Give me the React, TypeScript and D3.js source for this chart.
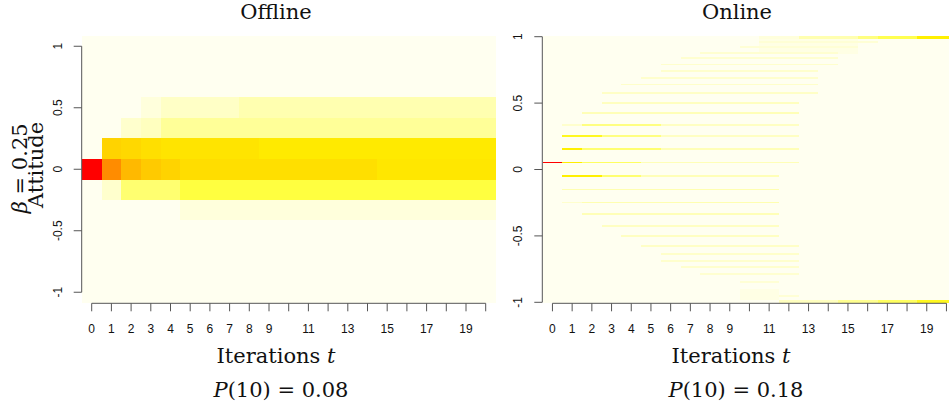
import React from "react";
import * as d3 from "d3";

// iterations t (one column per step) and the x tick labels R kept after dropping overlaps
const iterations = [0, 1, 2, 3, 4, 5, 6, 7, 8, 9, 10, 11, 12, 13, 14, 15, 16, 17, 18, 19, 20];
const iterationLabels = ["0", "1", "2", "3", "4", "5", "6", "7", "8", "9", "", "11", "", "13", "", "15", "", "17", "", "19", ""];
const attitudeTicks = [-1, -0.5, 0, 0.5, 1];
const attitudeTickLabels = ["-1", "-0.5", "0", "0.5", "1"];

// offline: attitude bins (top to bottom) x iterations, estimated share per cell
const offlineBins = [1, 0.8333, 0.6667, 0.5, 0.3333, 0.1667, 0, -0.1667, -0.3333, -0.5, -0.6667, -0.8333, -1];
const offlineDensity = [
  [0, 0, 0, 0, 0, 0, 0, 0, 0, 0, 0, 0, 0, 0, 0, 0, 0, 0, 0, 0, 0],
  [0, 0, 0, 0, 0, 0, 0, 0, 0, 0, 0, 0, 0, 0, 0, 0, 0, 0, 0, 0, 0],
  [0, 0, 0, 0, 0, 0, 0, 0, 0, 0, 0, 0, 0, 0, 0, 0, 0, 0, 0, 0, 0],
  [0, 0, 0, 0.02, 0.035, 0.035, 0.035, 0.035, 0.05, 0.05, 0.05, 0.05, 0.05, 0.05, 0.05, 0.05, 0.05, 0.05, 0.05, 0.05, 0.05],
  [0, 0, 0.03, 0.04, 0.065, 0.065, 0.065, 0.065, 0.065, 0.065, 0.065, 0.065, 0.065, 0.065, 0.065, 0.065, 0.065, 0.065, 0.065, 0.065, 0.065],
  [0, 0.27, 0.25, 0.22, 0.2, 0.2, 0.2, 0.2, 0.2, 0.18, 0.18, 0.18, 0.18, 0.18, 0.18, 0.18, 0.18, 0.18, 0.18, 0.18, 0.18],
  [1, 0.5, 0.38, 0.31, 0.27, 0.23, 0.23, 0.22, 0.22, 0.22, 0.22, 0.22, 0.22, 0.22, 0.22, 0.19, 0.19, 0.19, 0.19, 0.19, 0.19],
  [0, 0.03, 0.09, 0.09, 0.09, 0.12, 0.12, 0.12, 0.12, 0.12, 0.12, 0.12, 0.12, 0.12, 0.12, 0.12, 0.12, 0.12, 0.12, 0.12, 0.12],
  [0, 0, 0, 0, 0, 0.02, 0.02, 0.02, 0.02, 0.02, 0.02, 0.02, 0.02, 0.02, 0.02, 0.02, 0.02, 0.02, 0.02, 0.02, 0.02],
  [0, 0, 0, 0, 0, 0, 0, 0, 0, 0, 0, 0, 0, 0, 0, 0, 0, 0, 0, 0, 0],
  [0, 0, 0, 0, 0, 0, 0, 0, 0, 0, 0, 0, 0, 0, 0, 0, 0, 0, 0, 0, 0],
  [0, 0, 0, 0, 0, 0, 0, 0, 0, 0, 0, 0, 0, 0, 0, 0, 0, 0, 0, 0, 0],
  [0, 0, 0, 0, 0, 0, 0, 0, 0, 0, 0, 0, 0, 0, 0, 0, 0, 0, 0, 0, 0],
];

// online: narrow attitude streaks [attitude, from t, to t, share]
const onlineStreaks = [
  [0.052, 0, 0, 1.0], [0.052, 1, 1, 0.17], [0.052, 2, 4, 0.1], [0.052, 5, 12, 0.045],
  [0.152, 1, 1, 0.16], [0.152, 2, 5, 0.09], [0.152, 6, 12, 0.045],
  [0.25, 1, 2, 0.14], [0.25, 3, 5, 0.08], [0.25, 6, 12, 0.038],
  [0.338, 1, 1, 0.03], [0.338, 2, 5, 0.08], [0.338, 6, 12, 0.038],
  [0.425, 2, 12, 0.045],
  [0.5, 3, 12, 0.04],
  [0.575, 3, 13, 0.035],
  [0.64, 4, 13, 0.032],
  [0.69, 5, 13, 0.03],
  [0.74, 6, 13, 0.03],
  [0.79, 6, 14, 0.03],
  [0.84, 7, 14, 0.028],
  [0.88, 8, 14, 0.028],
  [0.92, 10, 15, 0.025],
  [0.96, 11, 16, 0.025],
  [-0.048, 1, 2, 0.16], [-0.048, 3, 4, 0.09], [-0.048, 5, 11, 0.045],
  [-0.15, 1, 11, 0.05],
  [-0.248, 1, 1, 0.03], [-0.248, 2, 11, 0.05],
  [-0.338, 2, 11, 0.045],
  [-0.426, 3, 11, 0.038],
  [-0.5, 4, 11, 0.038],
  [-0.576, 5, 12, 0.035],
  [-0.636, 6, 12, 0.032],
  [-0.686, 6, 12, 0.03],
  [-0.736, 7, 12, 0.03],
  [-0.787, 8, 12, 0.028],
  [-0.845, 10, 11, 0.025],
  [-0.95, 12, 12, 0.025],
];
// wider bands of mass [attitude low, attitude high, from t, to t, share]
const onlineWash = [
  [0.87, 0.985, 11, 15, 0.012],
  [-0.985, -0.9, 10, 11, 0.012],
  [0.982, 1.003, 11, 12, 0.02], [0.982, 1.003, 13, 15, 0.05], [0.982, 1.003, 16, 16, 0.08], [0.982, 1.003, 17, 18, 0.11], [0.982, 1.003, 19, 20, 0.16],
  [-1.003, -0.982, 12, 14, 0.04], [-1.003, -0.982, 15, 16, 0.07], [-1.003, -0.982, 17, 18, 0.1], [-1.003, -0.982, 19, 20, 0.14],
];

const heatStops = [0, 0.02, 0.05, 0.08, 0.12, 0.16, 0.2, 0.3, 0.4, 0.5, 1];
const heatColours = ["#FFFFF0", "#FFFFDC", "#FFFFB0", "#FFFF80", "#FFFF40", "#FFF000", "#FFE400", "#FFCC00", "#FFB400", "#FF8C00", "#FF0000"];
const heat = d3.scaleLinear<string>().domain(heatStops).range(heatColours).clamp(true);

const serif = "'DejaVu Serif', serif";
const sans = "'Liberation Sans', Arial, sans-serif";
const axisColour = "#555";

function Axes({ x, y, axisX }: { x: any; y: any; axisX: number }) {
  const axisY = 303.3;
  return (
    <g stroke={axisColour} fill="none">
      <line x1={axisX} x2={axisX} y1={y(1)} y2={y(-1)} />
      {attitudeTicks.map((v, i) => (
        <g key={"y" + v}>
          <line x1={axisX} x2={axisX - 8} y1={y(v)} y2={y(v)} />
          <text
            transform={`translate(${axisX - 20},${y(v)}) rotate(-90)`}
            textAnchor="middle" stroke="none" fill="#111" fontFamily={sans} fontSize={12}
          >
            {attitudeTickLabels[i]}
          </text>
        </g>
      ))}
      <line x1={x(0)} x2={x(20)} y1={axisY} y2={axisY} />
      {iterations.map((t, i) => (
        <g key={"x" + t}>
          <line x1={x(t)} x2={x(t)} y1={axisY} y2={axisY + 8} />
          <text x={x(t)} y={axisY + 30} textAnchor="middle" stroke="none" fill="#111" fontFamily={sans} fontSize={12}>
            {iterationLabels[i]}
          </text>
        </g>
      ))}
    </g>
  );
}

function Captions({ cx, title, pLabel, pValue }: { cx: number[]; title: string; pLabel: string; pValue: string }) {
  return (
    <g fontFamily={serif} fontSize={21} fill="#111" textAnchor="middle">
      <text x={cx[0]} y={19}>{title}</text>
      <text x={cx[1]} y={363}>
        Iterations <tspan fontStyle="italic">t</tspan>
      </text>
      <text x={cx[2]} y={397}>
        <tspan fontStyle="italic">P</tspan>({pLabel}) = {pValue}
      </text>
    </g>
  );
}

export default function App() {
  // offline panel scales
  const binWidth = offlineBins[0] - offlineBins[1];
  const xOff = d3.scaleLinear().domain([-0.5, 20.5]).range([81.85, 495.55]);
  const yOff = d3.scaleLinear().domain([-1 - binWidth / 2, 1 + binWidth / 2]).range([302.5, 36]);

  // online panel scales
  const xOn = d3.scaleLinear().domain([-0.5, 20.5]).range([542.6, 956.3]);
  const yOn = d3.scaleLinear().domain([-1, 1]).range([302.3, 36.7]);
  const streakHalf = 0.0068;

  return (
    <svg width={949} height={405} style={{ position: "absolute", left: 0, top: 0, background: "#fff" }}>
      <g shapeRendering="crispEdges">
        {offlineBins.map((a, r) =>
          iterations.map((t) => (
            <rect
              key={`o${r}-${t}`}
              x={xOff(t - 0.5)}
              width={xOff(t + 0.5) - xOff(t - 0.5) + 0.3}
              y={yOff(a + binWidth / 2)}
              height={yOff(a - binWidth / 2) - yOff(a + binWidth / 2) + 0.3}
              fill={heat(offlineDensity[r][t])}
            />
          ))
        )}
      </g>

      <g shapeRendering="crispEdges">
        <rect x={xOn(-0.5)} width={xOn(20.5) - xOn(-0.5)} y={yOn(1.005)} height={yOn(-1.005) - yOn(1.005)} fill={heat(0)} />
        {onlineWash.map(([lo, hi, t0, t1, v], i) => (
          <rect key={"w" + i} x={xOn(t0 - 0.5)} width={xOn(t1 + 0.5) - xOn(t0 - 0.5)} y={yOn(hi)} height={yOn(lo) - yOn(hi)} fill={heat(v)} />
        ))}
        {onlineStreaks.map(([a, t0, t1, v], i) => (
          <rect
            key={"s" + i}
            x={xOn(t0 - 0.5)}
            width={xOn(t1 + 0.5) - xOn(t0 - 0.5)}
            y={yOn(a + streakHalf)}
            height={yOn(a - streakHalf) - yOn(a + streakHalf)}
            fill={heat(v)}
          />
        ))}
      </g>

      <Axes x={xOff} y={yOff} axisX={81.7} />
      <Axes x={xOn} y={yOn} axisX={542.3} />

      <Captions cx={[276, 276, 281]} title="Offline" pLabel="10" pValue="0.08" />
      <Captions cx={[737, 731, 736]} title="Online" pLabel="10" pValue="0.18" />

      <g fontFamily={serif} fontSize={21} fill="#111" textAnchor="middle">
        <text transform={`translate(26.7,168.3) rotate(-90)`}>
          <tspan fontStyle="italic">β</tspan> = 0.25
        </text>
        <text transform={`translate(43.3,165) rotate(-90)`}>Attitude</text>
      </g>
    </svg>
  );
}
